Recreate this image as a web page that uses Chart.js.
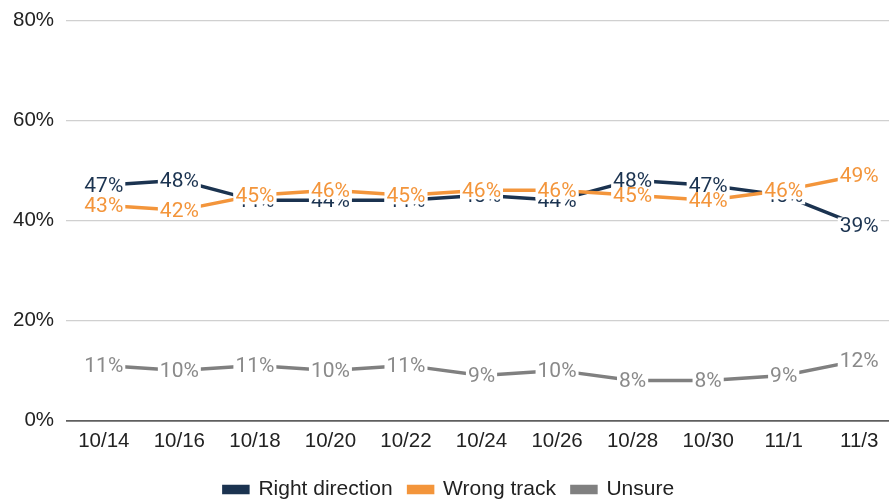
<!DOCTYPE html>
<html>
<head>
<meta charset="utf-8">
<script src="https://cdn.jsdelivr.net/npm/chart.js@4.4.1/dist/chart.umd.min.js"></script>
<style>
  html, body { margin: 0; padding: 0; background: #fff; overflow: hidden; }
  /* slightly bigger than the window so the plot area lines up with the original */
  #wrap { width: 897px; height: 512px; margin-top: -4px; }
</style>
</head>
<body>
<div id="wrap"><canvas id="trackChart"></canvas></div>
<script>
  // poll dates
  const categories = ["10/14", "10/16", "10/18", "10/20", "10/22", "10/24", "10/26", "10/28", "10/30", "11/1", "11/3"];
  const rightDirection = [47, 48, 44, 44, 44, 45, 44, 48, 47, 45, 39];
  const wrongTrack = [43, 42, 45, 46, 45, 46, 46, 45, 44, 46, 49];
  const unsure = [11, 10, 11, 10, 11, 9, 10, 8, 8, 9, 12];
  const yTicks = [0, 20, 40, 60, 80];

  const labelColors = ["#1b3350", "#f3953b", "#8a8a8a"];

  // draws the "47%" style labels right on top of each point, with a white box behind
  const pointLabels = {
    id: "pointLabels",
    afterDatasetDraw(chart, args) {
      const ctx = chart.ctx;
      const ds = chart.data.datasets[args.index];
      const meta = args.meta;
      ctx.save();
      ctx.font = "21px Roboto";
      ctx.textAlign = "center";
      ctx.textBaseline = "middle";
      meta.data.forEach((pt, i) => {
        const txt = ds.data[i] + "%";
        const w = ctx.measureText(txt).width;
        ctx.fillStyle = "#ffffff";
        ctx.fillRect(pt.x - w / 2 - 2, pt.y - 8, w + 4, 17);
        ctx.fillStyle = labelColors[args.index];
        ctx.fillText(txt, pt.x, pt.y + 1);
      });
      ctx.restore();
    }
  };

  const ctx = document.getElementById("trackChart").getContext("2d");
  const myChart = new Chart(ctx, {
    type: "line",
    data: {
      labels: categories,
      datasets: [
        { label: "Right direction", data: rightDirection, borderColor: "#1b3350", backgroundColor: "#1b3350", order: 3 },
        { label: "Wrong track", data: wrongTrack, borderColor: "#f3953b", backgroundColor: "#f3953b", order: 2 },
        { label: "Unsure", data: unsure, borderColor: "#808080", backgroundColor: "#808080", order: 1 }
      ]
    },
    options: {
      responsive: true,
      maintainAspectRatio: false,
      animation: false,
      layout: { padding: { top: 0, left: 1, right: 0, bottom: -2 } },
      elements: {
        line: { borderWidth: 3.5, tension: 0 },
        point: { radius: 0, hoverRadius: 0 }
      },
      scales: {
        x: {
          offset: true,
          grid: { display: false, drawTicks: false },
          border: { display: false },
          ticks: { color: "#222", font: { family: "Liberation Sans", size: 20.5 }, padding: 9, maxRotation: 0 }
        },
        y: {
          min: 0,
          max: 80,
          afterBuildTicks: (axis) => { axis.ticks = yTicks.map((v) => ({ value: v })); },
          grid: {
            drawTicks: false,
            color: (c) => (c.tick && c.tick.value === 0 ? "#5f5f5f" : "#d0d0d0"),
            lineWidth: (c) => (c.tick && c.tick.value === 0 ? 1.8 : 1.2)
          },
          border: { display: false },
          ticks: {
            color: "#222",
            font: { family: "Liberation Sans", size: 20.5 },
            padding: 12,
            callback: (v) => v + "%"
          }
        }
      },
      plugins: {
        tooltip: { enabled: false },
        legend: {
          position: "bottom",
          labels: {
            color: "#222",
            font: { family: "Liberation Sans", size: 21 },
            boxWidth: 24,
            boxHeight: 6,
            padding: 16,
            sort: (a, b) => a.datasetIndex - b.datasetIndex
          }
        }
      }
    },
    plugins: [pointLabels]
  });
</script>
</body>
</html>
